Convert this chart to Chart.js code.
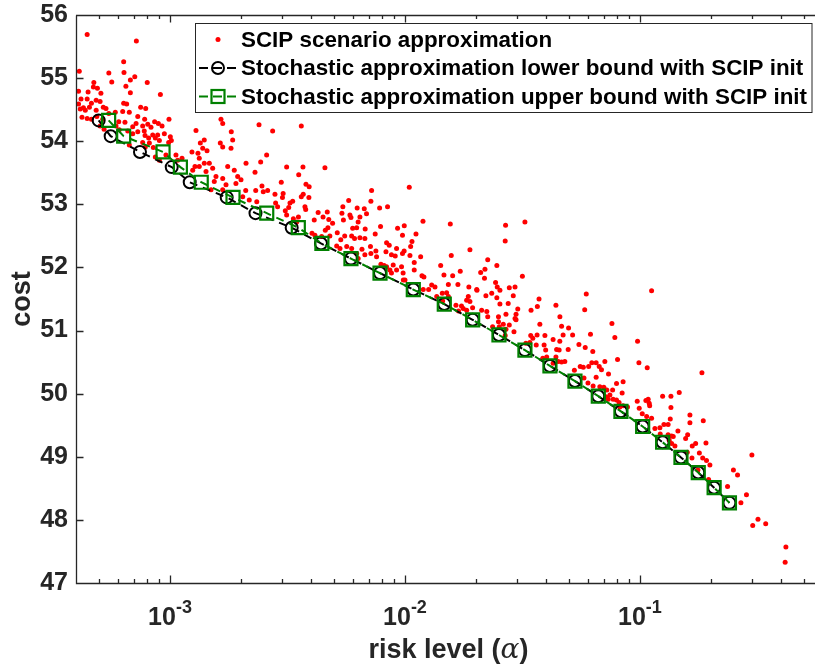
<!DOCTYPE html>
<html>
<head>
<meta charset="utf-8">
<script src="https://cdn.jsdelivr.net/npm/chart.js@4.4.1/dist/chart.umd.min.js"></script>
<style>
  html, body { margin: 0; padding: 0; background: #fff; }
  #wrap { width: 815px; height: 670px; }
</style>
</head>
<body>
<div id="wrap"><canvas id="riskChart" width="815" height="670"></canvas></div>
<script>
// SCIP scenario approximation: risk level (alpha) and cost
const scipAlpha = [
  // below 2e-3
  4.44e-4, 7.19e-4, 6.35e-4, 4.11e-4, 5.49e-4, 6.37e-4, 7.08e-4, 6.78e-4, 5.65e-4, 8.00e-4,
  4.74e-4, 4.72e-4, 4.91e-4, 6.49e-4, 4.08e-4, 4.48e-4, 5.08e-4, 6.78e-4, 9.10e-4, 4.18e-4,
  4.44e-4, 4.85e-4, 5.04e-4, 4.08e-4, 4.63e-4, 6.35e-4, 6.54e-4, 7.50e-4, 7.88e-4, 4.28e-4,
  4.15e-4, 4.36e-4, 4.54e-4, 4.85e-4, 5.20e-4, 5.34e-4, 5.49e-4, 5.85e-4, 6.29e-4, 6.71e-4,
  4.22e-4, 4.44e-4, 4.63e-4, 4.88e-4, 5.17e-4, 7.29e-4, 7.80e-4, 8.60e-4, 9.90e-4, 6.05e-4,
  6.43e-4, 7.17e-4, 7.65e-4, 8.04e-4, 8.30e-4, 8.92e-4, 9.25e-4, 6.94e-4, 5.89e-4, 6.08e-4,
  6.61e-4, 6.94e-4, 7.29e-4, 7.77e-4, 8.44e-4, 8.86e-4, 9.46e-4, 1.003e-3, 7.83e-4, 8.11e-4,
  8.66e-4, 7.65e-4, 8.17e-4, 9.01e-4, 9.87e-4, 1.013e-3, 6.71e-4, 7.85e-4, 8.49e-4, 8.66e-4,
  9.01e-4, 9.61e-4, 1.060e-3, 1.078e-3, 1.125e-3, 1.290e-3, 1.399e-3, 1.346e-3, 1.378e-3, 1.437e-3,
  1.240e-3, 1.315e-3, 1.648e-3, 1.676e-3, 1.823e-3, 1.848e-3, 1.637e-3, 1.676e-3, 1.818e-3, 1.332e-3,
  1.399e-3, 1.470e-3, 1.249e-3, 1.332e-3, 1.423e-3, 1.519e-3, 1.569e-3, 1.676e-3, 1.760e-3, 1.877e-3,
  1.941e-3, 2.005e-3, 2.106e-3, 1.731e-3, 1.908e-3, 1.543e-3, 1.495e-3, 1.676e-3, 2.039e-3, 2.174e-3,
  1.277e-3, 5.04e-4, 5.24e-4, 2.10e-3,
  // 2e-3 .. 1e-2
  2.392e-3, 3.62e-3, 2.734e-3, 2.578e-3, 2.431e-3, 3.136e-3, 3.68e-3, 4.564e-3, 2.30e-3, 3.53e-3,
  2.975e-3, 3.79e-3, 3.91e-3, 2.462e-3, 2.494e-3, 2.603e-3, 2.316e-3, 3.03e-3, 2.797e-3, 3.01e-3,
  3.62e-3, 3.90e-3, 3.69e-3, 7.21e-3, 5.76e-3, 7.16e-3, 2.34e-3, 2.815e-3, 3.327e-3, 3.752e-3,
  3.78e-3, 3.20e-3, 3.095e-3, 5.44e-3, 6.26e-3, 6.71e-3, 7.80e-3, 8.43e-3, 4.27e-3, 4.67e-3,
  5.39e-3, 5.83e-3, 6.43e-3, 6.86e-3, 3.35e-3, 3.46e-3, 4.48e-3, 4.74e-3, 4.92e-3, 4.11e-3,
  7.87e-3, 9.30e-3, 5.99e-3, 6.23e-3, 6.77e-3, 4.70e-3, 4.58e-3, 5.15e-3, 4.02e-3, 4.138e-3,
  4.42e-3, 4.79e-3, 5.54e-3, 5.93e-3, 6.10e-3, 6.43e-3, 6.75e-3, 7.47e-3, 7.13e-3, 5.33e-3,
  5.65e-3, 5.12e-3, 5.29e-3, 5.93e-3, 6.56e-3, 6.23e-3, 6.75e-3, 7.16e-3, 7.52e-3, 7.57e-3,
  6.32e-3, 8.35e-3, 8.57e-3, 8.30e-3, 9.21e-3, 8.76e-3, 9.09e-3, 7.90e-3, 8.15e-3, 8.35e-3,
  8.91e-3, 8.625e-3, 9.21e-3, 5.89e-3, 5.47e-3, 6.32e-3, 3.24e-3, 3.136e-3, 3.52e-3, 8.76e-3,
  9.84e-3, 2.87e-3,
  // 1e-2 .. 4e-2
  1.043e-2, 1.193e-2, 1.559e-2, 2.68e-2, 3.24e-2, 2.67e-2, 9.93e-3, 1.114e-2, 1.071e-2, 1.057e-2,
  9.92e-3, 1.166e-2, 1.05e-2, 1.095e-2, 9.76e-3, 9.67e-3, 9.82e-3, 1.095e-2, 1.181e-2, 1.204e-2,
  1.299e-2, 1.342e-2, 1.419e-2, 1.574e-2, 1.465e-2, 1.596e-2, 1.719e-2, 1.89e-2, 2.25e-2, 2.46e-2,
  2.10e-2, 2.18e-2, 2.43e-2, 2.47e-2, 3.16e-2, 2.94e-2, 2.78e-2, 1.68e-2, 1.53e-2, 2.02e-2,
  9.76e-3, 2.19e-2, 1.0e-2, 1.87e-2, 1.196e-2, 1.261e-2, 1.441e-2, 1.504e-2, 1.53e-2, 1.365e-2,
  1.447e-2, 2.025e-2, 1.86e-2, 1.83e-2, 1.89e-2, 1.648e-2, 1.74e-2, 1.77e-2, 1.83e-2, 1.69e-2,
  1.94e-2, 2.12e-2, 2.21e-2, 2.34e-2, 2.46e-2, 2.536e-2, 2.89e-2, 2.536e-2, 2.75e-2, 2.23e-2,
  2.25e-2, 2.50e-2, 2.69e-2, 2.97e-2, 3.02e-2, 2.94e-2, 2.50e-2, 2.62e-2, 2.52e-2, 2.69e-2,
  2.36e-2, 2.78e-2, 2.97e-2, 2.91e-2, 2.67e-2, 3.44e-2, 3.66e-2, 3.72e-2, 3.75e-2, 3.43e-2,
  3.50e-2, 3.65e-2, 3.94e-2, 3.27e-2, 3.40e-2, 3.62e-2, 3.91e-2, 3.97e-2, 3.86e-2, 4.01e-2,
  // 4e-2 .. 0.2
  4.39e-2, 4.564e-2, 4.64e-2, 4.27e-2, 4.71e-2, 4.42e-2, 4.53e-2, 4.95e-2, 4.39e-2, 4.49e-2,
  4.64e-2, 4.79e-2, 4.27e-2, 5.91e-2, 0.1121, 5.82e-2, 7.60e-2, 4.97e-2, 6.16e-2, 5.17e-2,
  7.82e-2, 9.77e-2, 4.56e-2, 5.50e-2, 5.85e-2, 6.30e-2, 8.03e-2, 6.24e-2, 6.51e-2, 7.09e-2,
  9.90e-2, 0.1074, 5.57e-2, 5.74e-2, 6.05e-2, 6.71e-2, 6.86e-2, 5.26e-2, 5.78e-2, 6.51e-2,
  7.35e-2, 0.1836, 6.01e-2, 6.32e-2, 6.75e-2, 7.02e-2, 7.23e-2, 7.45e-2, 7.65e-2, 7.95e-2,
  8.48e-2, 8.40e-2, 7.16e-2, 7.33e-2, 7.69e-2, 7.95e-2, 8.15e-2, 8.48e-2, 8.85e-2, 8.21e-2,
  9.74e-2, 9.93e-2, 0.106, 0.1084, 0.1095, 0.110, 0.1249, 0.1355, 0.147, 0.1023,
  0.1068, 0.1121, 0.1355, 0.1346, 0.1265, 0.1318, 0.1158, 0.1216, 0.122, 0.1318,
  0.1364, 0.1386, 0.1332, 0.1364, 0.1409, 0.1451, 0.1596, 0.1632, 0.1632, 0.186,
  0.1565, 0.167, 0.1726, 0.191, 0.179, 0.159, 0.1665, 0.185, 0.192, 0.1985,
  0.196, 0.236,
  // above 0.2
  0.2996, 0.250, 0.2603, 0.284, 0.269, 0.318, 0.302, 0.343, 0.418, 0.415, 0.1765
];
const scipCost = [
  55.69, 55.59, 55.26, 55.11, 55.08, 55.09, 55.02, 54.97, 54.94, 54.93,
  54.93, 54.86, 54.84, 54.87, 54.79, 54.78, 54.76, 54.77, 54.74, 54.67,
  54.67, 54.65, 54.63, 54.59, 54.60, 54.60, 54.59, 54.54, 54.52, 54.53,
  54.51, 54.49, 54.54, 54.49, 54.54, 54.52, 54.44, 54.46, 54.47, 54.46,
  54.38, 54.36, 54.35, 54.39, 54.35, 54.39, 54.35, 54.31, 54.35, 54.31,
  54.30, 54.28, 54.24, 54.27, 54.22, 54.28, 54.24, 54.23, 54.24, 54.18,
  54.16, 54.12, 54.15, 54.16, 54.10, 54.10, 54.12, 54.07, 54.09, 54.05,
  54.05, 53.98, 53.97, 54.01, 53.98, 54.01, 53.94, 53.91, 53.90, 53.75,
  53.70, 53.78, 53.78, 53.70, 53.73, 54.17, 54.02, 53.97, 53.89, 53.85,
  53.83, 53.81, 54.35, 54.28, 54.15, 54.02, 53.97, 53.91, 53.89, 53.73,
  53.65, 53.65, 53.54, 53.60, 53.52, 53.57, 53.44, 53.41, 53.60, 53.54,
  53.44, 53.39, 53.65, 53.31, 53.33, 53.36, 53.23, 53.23, 53.12, 53.07,
  53.60, 54.24, 54.19, 53.22,

  54.26, 54.24, 54.16, 53.78, 53.67, 53.59, 53.59, 53.58, 53.51, 53.47,
  53.35, 53.32, 53.28, 53.29, 53.20, 53.22, 53.22, 53.17, 53.16, 53.11,
  53.12, 53.11, 53.16, 53.22, 53.06, 53.05, 53.04, 53.02, 53.05, 52.96,
  52.92, 52.95, 52.90, 52.96, 52.94, 52.93, 52.94, 52.96, 52.87, 52.88,
  52.86, 52.83, 52.80, 52.85, 52.77, 52.72, 52.80, 52.76, 52.70, 52.75,
  52.65, 52.62, 52.62, 52.63, 52.61, 52.63, 52.59, 52.55, 52.54, 52.51,
  52.49, 52.50, 52.50, 52.50, 52.46, 52.47, 52.46, 52.53, 52.33, 52.44,
  52.33, 52.34, 52.30, 52.30, 52.29, 52.22, 52.20, 52.22, 52.26, 52.17,
  52.14, 52.39, 52.35, 52.25, 52.30, 52.20, 52.18, 52.05, 52.03, 52.01,
  52.04, 51.96, 51.96, 52.79, 52.75, 52.72, 53.02, 52.83, 52.80, 51.91,
  51.80, 52.96,

  53.27, 52.73, 52.69, 52.67, 52.72, 52.42, 52.66, 52.53, 52.41, 52.33,
  52.26, 52.17, 52.19, 52.08, 52.22, 52.01, 51.91, 51.96, 51.87, 51.85,
  51.72, 51.69, 52.03, 52.19, 51.88, 51.87, 51.94, 52.28, 52.12, 52.03,
  51.92, 51.83, 51.76, 51.69, 51.86, 51.69, 51.68, 51.73, 51.73, 51.65,
  52.51, 51.97, 51.80, 51.69, 51.65, 51.65, 51.59, 51.60, 51.54, 51.54,
  51.47, 51.64, 51.54, 51.48, 51.46, 51.40, 51.39, 51.35, 51.32, 51.31,
  51.36, 51.32, 51.55, 51.59, 51.52, 51.64, 51.55, 51.42, 51.43, 51.30,
  51.22, 51.22, 51.26, 51.26, 51.34, 51.19, 51.14, 51.10, 51.06, 51.02,
  51.06, 51.09, 51.17, 50.98, 50.92, 51.32, 51.38, 51.50, 51.10, 50.92,
  50.88, 50.93, 50.92, 50.80, 50.81, 50.77, 50.77, 50.69, 50.56, 50.58,

  51.40, 51.22, 51.07, 50.86, 50.93, 50.70, 50.69, 50.70, 50.58, 50.51,
  50.50, 50.51, 50.48, 51.58, 51.63, 51.33, 51.11, 51.04, 50.94, 50.93,
  50.89, 50.83, 50.83, 50.78, 50.73, 50.67, 50.54, 50.49, 50.49, 50.51,
  50.49, 50.41, 50.43, 50.42, 50.43, 50.43, 50.38, 50.37, 50.25, 50.26,
  50.31, 50.33, 50.17, 50.12, 50.11, 50.10, 50.06, 49.98, 50.06, 50.16,
  50.19, 50.01, 49.95, 49.91, 49.91, 49.90, 49.86, 49.81, 49.79, 49.79,
  49.88, 49.77, 49.89, 49.91, 49.85, 49.81, 49.96, 49.96, 50.02, 49.68,
  49.64, 49.61, 49.78, 49.60, 49.51, 49.51, 49.45, 49.46, 49.36, 49.35,
  49.33, 49.32, 49.26, 49.21, 49.17, 49.41, 49.35, 49.66, 49.54, 49.57,
  49.29, 49.17, 49.21, 49.22, 49.06, 49.07, 48.98, 48.98, 48.94, 48.87,
  48.64, 48.53,

  49.03, 48.79, 48.71, 48.40, 48.27, 48.01, 47.91, 47.94, 47.57, 47.33, 48.79
];

// stochastic approximation bounds
const lowerAlpha = [4.97e-4, 5.59e-4, 7.45e-4, 1.017e-3, 1.213e-3, 1.743e-3, 2.311e-3, 3.295e-3, 4.39e-3, 5.89e-3,
  7.83e-3, 1.085e-2, 1.47e-2, 1.941e-2, 2.512e-2, 3.24e-2, 4.14e-2, 5.29e-2, 6.65e-2, 8.30e-2,
  0.1027, 0.1249, 0.1495, 0.1771, 0.2069, 0.2404];
const upperAlpha = [5.48e-4, 6.35e-4, 9.34e-4, 1.107e-3, 1.358e-3, 1.854e-3, 2.58e-3, 3.516e-3, 4.43e-3, 5.89e-3,
  7.83e-3, 1.085e-2, 1.47e-2, 1.941e-2, 2.512e-2, 3.24e-2, 4.14e-2, 5.29e-2, 6.65e-2, 8.30e-2,
  0.1027, 0.1249, 0.1495, 0.1771, 0.2069, 0.2404];
const lowerCost = [54.33, 54.08, 53.83, 53.59, 53.35, 53.11, 52.86, 52.63, 52.38, 52.14,
  51.91, 51.65, 51.42, 51.17, 50.93, 50.69, 50.44, 50.20, 49.96, 49.72,
  49.48, 49.23, 48.99, 48.75, 48.51, 48.27];
const upperCost = [54.33, 54.08, 53.83, 53.59, 53.35, 53.11, 52.86, 52.63, 52.38, 52.14,
  51.91, 51.65, 51.42, 51.17, 50.93, 50.69, 50.44, 50.20, 49.96, 49.72,
  49.48, 49.23, 48.99, 48.75, 48.51, 48.27];

// axis ticks
const xMajorTicks = [1e-3, 1e-2, 1e-1];
const xTickExponents = ['-3', '-2', '-1'];
const xMinorTicks = [5e-4, 6e-4, 7e-4, 8e-4, 9e-4,
  2e-3, 3e-3, 4e-3, 5e-3, 6e-3, 7e-3, 8e-3, 9e-3,
  2e-2, 3e-2, 4e-2, 5e-2, 6e-2, 7e-2, 8e-2, 9e-2,
  2e-1, 3e-1, 4e-1, 5e-1];
const yTicks = [47, 48, 49, 50, 51, 52, 53, 54, 55, 56];

const legendLabels = [
  'SCIP scenario approximation',
  'Stochastic approximation lower bound with SCIP init',
  'Stochastic approximation upper bound with SCIP init'
];

const FONT = "'Liberation Sans', Arial, Helvetica, sans-serif";
const AXIS_COLOR = '#262626';
const GREEN = '#008000';
// plot box inside the 815x670 canvas
const AREA = { left: 76, top: 15, right: 815, bottom: 583 };

const toPoints = (xs, ys) => xs.map((v, i) => ({ x: v, y: ys[i] }));

const noScalePadding = (s) => {
    s.paddingLeft = 0;
    s.paddingRight = 0;
    s.paddingTop = 0;
    s.paddingBottom = 0;
};

// MATLAB-like box, inward ticks, superscript tick labels and legend
const matlabAxes = {
    id: 'matlabAxes',
    afterDatasetsDraw(chart) {
        const { ctx, chartArea: a, scales: { x, y } } = chart;
        ctx.save();
        ctx.strokeStyle = AXIS_COLOR;
        ctx.lineWidth = 1.3;
        ctx.beginPath();
        ctx.moveTo(a.left + 0.5, a.top + 0.5);
        ctx.lineTo(a.left + 0.5, a.bottom + 0.5);
        ctx.lineTo(a.right, a.bottom + 0.5);
        ctx.moveTo(a.left + 0.5, a.top + 0.5);
        ctx.lineTo(a.right, a.top + 0.5);

        const tick = (v, len) => {
            const px = Math.round(x.getPixelForValue(v)) + 0.5;
            ctx.moveTo(px, a.bottom);
            ctx.lineTo(px, a.bottom - len);
            ctx.moveTo(px, a.top);
            ctx.lineTo(px, a.top + len);
        };
        xMajorTicks.forEach(v => tick(v, 7.5));
        xMinorTicks.forEach(v => tick(v, 4));
        yTicks.forEach(v => {
            const py = Math.round(y.getPixelForValue(v)) + 0.5;
            ctx.moveTo(a.left, py);
            ctx.lineTo(a.left + 7.5, py);
        });
        ctx.stroke();
        ctx.restore();
    },
    afterDraw(chart) {
        const { ctx, chartArea: a, scales: { x } } = chart;
        ctx.save();

        // x tick labels 10^k
        ctx.fillStyle = AXIS_COLOR;
        ctx.textBaseline = 'alphabetic';
        ctx.textAlign = 'left';
        xMajorTicks.forEach((v, i) => {
            const px = x.getPixelForValue(v);
            ctx.font = `bold 25px ${FONT}`;
            const baseW = ctx.measureText('10').width;
            ctx.font = `bold 18px ${FONT}`;
            const expW = ctx.measureText(xTickExponents[i]).width;
            const start = px - (baseW + expW) / 2;
            ctx.font = `bold 25px ${FONT}`;
            ctx.fillText('10', start, 625);
            ctx.font = `bold 18px ${FONT}`;
            ctx.fillText(xTickExponents[i], start + baseW, 613);
        });

        // x axis title with italic alpha
        const parts = [
            { t: 'risk level (', f: `bold 27px ${FONT}` },
            { t: 'α', f: `italic 28px 'DejaVu Serif', 'Liberation Serif', serif` },
            { t: ')', f: `bold 27px ${FONT}` }
        ];
        let total = 0;
        parts.forEach(p => { ctx.font = p.f; p.w = ctx.measureText(p.t).width; total += p.w; });
        let cx = (a.left + a.right) / 2 + 3 - total / 2;
        parts.forEach(p => { ctx.font = p.f; ctx.fillText(p.t, cx, 658); cx += p.w; });

        // legend
        const box = { left: 195.5, top: 23.5, right: 812, bottom: 112.5 };
        ctx.fillStyle = '#ffffff';
        ctx.fillRect(box.left, box.top, box.right - box.left, box.bottom - box.top);
        ctx.strokeStyle = AXIS_COLOR;
        ctx.lineWidth = 1;
        ctx.strokeRect(box.left, box.top, box.right - box.left, box.bottom - box.top);

        const rows = [39.5, 68, 96.5];
        const mx = 218;
        ctx.fillStyle = '#ff0000';
        ctx.beginPath();
        ctx.arc(mx, rows[0], 2.5, 0, Math.PI * 2);
        ctx.fill();

        ctx.lineWidth = 2;
        ctx.strokeStyle = '#000000';
        ctx.setLineDash([9, 5]);
        ctx.beginPath();
        ctx.moveTo(199, rows[1]);
        ctx.lineTo(237, rows[1]);
        ctx.stroke();
        ctx.setLineDash([]);
        ctx.beginPath();
        ctx.arc(mx, rows[1], 6, 0, Math.PI * 2);
        ctx.stroke();

        ctx.strokeStyle = GREEN;
        ctx.setLineDash([9, 5]);
        ctx.beginPath();
        ctx.moveTo(199, rows[2]);
        ctx.lineTo(237, rows[2]);
        ctx.stroke();
        ctx.setLineDash([]);
        ctx.lineWidth = 2.2;
        ctx.strokeRect(mx - 6.5, rows[2] - 6.5, 13, 13);

        ctx.fillStyle = '#000000';
        ctx.font = `bold 22.4px ${FONT}`;
        ctx.textBaseline = 'middle';
        legendLabels.forEach((t, i) => ctx.fillText(t, 241, rows[i] + 1));
        ctx.restore();
    }
};

new Chart(document.getElementById('riskChart'), {
    type: 'scatter',
    data: {
        datasets: [
            {
                label: legendLabels[0],
                data: toPoints(scipAlpha, scipCost),
                pointRadius: 2.5,
                pointBackgroundColor: '#ff0000',
                pointBorderWidth: 0,
                order: 3
            },
            {
                label: legendLabels[1],
                data: toPoints(lowerAlpha, lowerCost),
                showLine: true,
                fill: false,
                borderColor: '#000000',
                borderWidth: 2,
                borderDash: [8, 6],
                pointStyle: 'circle',
                pointRadius: 6,
                pointBorderColor: '#000000',
                pointBorderWidth: 2,
                pointBackgroundColor: 'rgba(0,0,0,0)',
                order: 2
            },
            {
                label: legendLabels[2],
                data: toPoints(upperAlpha, upperCost),
                showLine: true,
                fill: false,
                borderColor: GREEN,
                borderWidth: 2,
                borderDash: [8, 6],
                pointStyle: 'rect',
                pointRadius: 9.2,
                pointBorderColor: GREEN,
                pointBorderWidth: 2.2,
                pointBackgroundColor: 'rgba(0,0,0,0)',
                order: 1
            }
        ]
    },
    options: {
        responsive: false,
        animation: false,
        devicePixelRatio: 1,
        layout: {
            autoPadding: false,
            padding: { top: AREA.top, right: 815 - AREA.right, bottom: 0, left: 0 }
        },
        plugins: {
            legend: { display: false },
            tooltip: { enabled: false }
        },
        scales: {
            x: {
                type: 'logarithmic',
                min: 3.98e-4,
                max: 0.556,
                grid: { display: false, drawTicks: false },
                border: { display: false },
                ticks: { display: false },
                afterFit: (s) => { s.height = 670 - AREA.bottom; noScalePadding(s); }
            },
            y: {
                min: 47,
                max: 56,
                grid: { display: false, drawTicks: false },
                border: { display: false },
                ticks: {
                    stepSize: 1,
                    padding: 8,
                    color: AXIS_COLOR,
                    font: { family: FONT, size: 25, weight: 'bold' }
                },
                title: {
                    display: true,
                    text: 'cost',
                    color: AXIS_COLOR,
                    padding: { top: 6, bottom: 0 },
                    font: { family: FONT, size: 27, weight: 'bold' }
                },
                afterFit: (s) => { s.width = AREA.left; noScalePadding(s); }
            }
        }
    },
    plugins: [matlabAxes]
});
</script>
</body>
</html>
